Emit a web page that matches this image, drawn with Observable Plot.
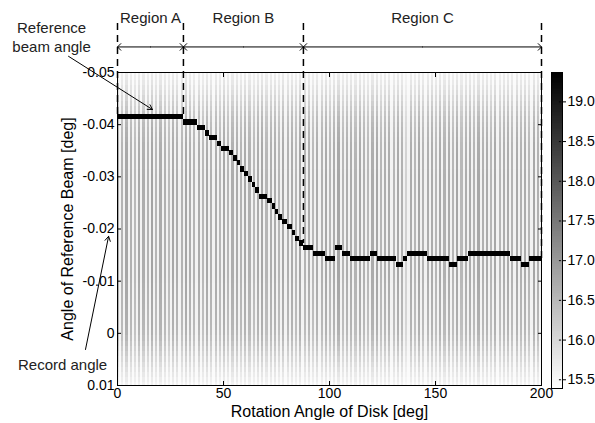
<!DOCTYPE html>
<html><head><meta charset="utf-8">
<script src="https://cdn.jsdelivr.net/npm/d3@7"></script>
<script src="https://cdn.jsdelivr.net/npm/@observablehq/plot@0.6"></script>
<style>
html,body{margin:0;padding:0;background:#fff;}
#chart{position:relative;width:595px;height:423px;overflow:hidden;font-family:'Liberation Sans',Arial,sans-serif;}
#chart svg{position:absolute;top:0;}
</style></head><body><div id="chart"></div>
<script>
// ---- axis ticks ----
const xTicks = [0, 50, 100, 150, 200];
const yTicks = [-0.05, -0.04, -0.03, -0.02, -0.01, 0, 0.01];
const colorTicks = [15.5, 16, 16.5, 17, 17.5, 18, 18.5, 19];
const colorMin = 15.39, colorMax = 19.37;

// ---- background stripes (darkness of the dark line in each 2-deg period) ----
const stripeDark = [0.33,0.30,0.35,0.31,0.28,0.34,0.32,0.30,0.36,0.29,
  0.33,0.31,0.27,0.34,0.32,0.30,0.35,0.32,0.30,0.33,
  0.28,0.34,0.31,0.33,0.29,0.35,0.29,0.32,0.33,0.30,
  0.34,0.31,0.28,0.33,0.35,0.29,0.32,0.33,0.29,0.34,
  0.31,0.33,0.29,0.35,0.30,0.32,0.28,0.33,0.31,0.34,
  0.29,0.33,0.35,0.29,0.32,0.33,0.30,0.34,0.31,0.28,
  0.33,0.35,0.29,0.32,0.33,0.29,0.34,0.31,0.18,0.33,
  0.29,0.35,0.30,0.32,0.33,0.29,0.34,0.31,0.33,0.29,
  0.35,0.28,0.32,0.33,0.30,0.34,0.31,0.33,0.29,0.35,
  0.29,0.32,0.33,0.30,0.34,0.31,0.33,0.29,0.35,0.31];
const stripeLight = 0.05;
// vertical profile of the stripes, rows -0.050 ... 0.010 (step 0.001)
const rowProfile = [0.18,0.24,0.30,0.36,0.42,0.50,0.58,0.65,0.72,0.78,
  0.83,0.87,0.90,0.92,0.95,0.96,0.97,0.98,0.98,0.99,
  1.00,1.00,1.00,1.00,1.00,1.00,1.00,1.00,1.00,1.00,
  1.00,1.00,1.00,1.00,1.00,1.00,1.00,1.00,1.00,1.00,
  0.99,0.98,0.97,0.96,0.95,0.94,0.93,0.92,0.91,0.90,
  0.86,0.81,0.74,0.66,0.58,0.50,0.42,0.35,0.28,0.22,0.16];
const rotationCols = d3.range(0, 200);          // 1-degree columns
const angleRows = d3.range(61).map(j => +(-0.050 + 0.001 * j).toFixed(3));

// ---- peak (maximum) cells ----
const peakStart = [0,31.1,37.7,41.5,43.4,47.2,49.1,52.8,54.7,56.6,
  58.0,59.9,61.8,63.7,65.1,67.0,70.8,73.1,74.5,75.9,
  77.8,80.2,82.5,84.0,85.8,87.7,92.5,98.1,102.8,106.1,
  109.9,119.3,122.6,131.6,134.9,136.8,146.2,156.6,160.4,165.6,
  185.4,190.6,194.3];
const peakAngle = [-0.0414,-0.0404,-0.0394,-0.0383,-0.0374,-0.0363,-0.0353,-0.0345,-0.0335,-0.0326,
  -0.0314,-0.0305,-0.0295,-0.0285,-0.0274,-0.0262,-0.0254,-0.0243,-0.0233,-0.0222,
  -0.0214,-0.0204,-0.0192,-0.0181,-0.0172,-0.0163,-0.0152,-0.0142,-0.0163,-0.0152,
  -0.0142,-0.0152,-0.0142,-0.0131,-0.0142,-0.0152,-0.0142,-0.0131,-0.0142,-0.0152,
  -0.0142,-0.0131,-0.0142];
const cellHalf = 0.0005;

// ---- region annotations ----
const regionNames = ["Region A", "Region B", "Region C"];
const regionBounds = [0, 31.1, 87.7, 200];
const boundPeak = [-0.0414, -0.0414, -0.0172, -0.0142];
const dashTopY = -0.0594, arrowRowY = -0.0549, regionLabelY = -0.0605;
const noteTexts = ["Reference\nbeam angle", "Record angle"];
const noteX = [-31.1, -25.9], noteY = [-0.0569, 0.0059];
const noteArrowX1 = [-23.1, -15.1], noteArrowY1 = [-0.0531, 0.0031];
const noteArrowX2 = [16.5, -4.2], noteArrowY2 = [-0.0429, -0.0186];

// ---- tables ----
const bg = [];
rotationCols.forEach((x, i) => angleRows.forEach((y, j) => {
  const t = rowProfile[j] * (i % 2 === 0 ? stripeDark[i >> 1] : stripeLight);
  bg.push({x1: x, x2: x + 1, y1: y - cellHalf, y2: y + cellHalf, v: colorMin + t * (colorMax - colorMin)});
}));
const peaks = peakStart.map((s, k) => ({s, e: k + 1 < peakStart.length ? peakStart[k + 1] : 200, a: peakAngle[k], v: colorMax}));
const bounds = regionBounds.map((x, k) => ({x, peak: boundPeak[k]}));
const regions = regionNames.map((name, k) => ({name, x1: regionBounds[k], x2: regionBounds[k + 1], mid: (regionBounds[k] + regionBounds[k + 1]) / 2}));
// each region span drawn as two arrows from its middle to its ends
const spanArrows = regions.flatMap(r => [{from: r.mid, to: r.x1}, {from: r.mid, to: r.x2}]);
const notes = noteTexts.map((text, k) => ({text, x: noteX[k], y: noteY[k], ax1: noteArrowX1[k], ay1: noteArrowY1[k], ax2: noteArrowX2[k], ay2: noteArrowY2[k]}));

const font = "'Liberation Sans', Arial, sans-serif";
const colorScale = {type: "linear", domain: [colorMin, colorMax], range: ["white", "black"], clamp: true};

const main = Plot.plot({
  width: 548, height: 423,
  marginLeft: 117, marginRight: 7, marginTop: 72, marginBottom: 38,
  style: {fontFamily: font, fontSize: "14px", background: "transparent", color: "black", overflow: "visible"},
  x: {domain: [0, 200]},
  y: {domain: [-0.05, 0.01], reverse: true},
  color: colorScale,
  marks: [
    Plot.rect(bg, {x1: "x1", x2: "x2", y1: "y1", y2: "y2", fill: "v", clip: true, shapeRendering: "crispEdges"}),
    Plot.rect(peaks, {x1: "s", x2: "e", y1: d => d.a - cellHalf, y2: d => d.a + cellHalf, fill: "v", clip: true, shapeRendering: "crispEdges"}),
    Plot.frame({stroke: "black"}),
    Plot.axisX({anchor: "bottom", ticks: xTicks, tickSize: -4, tickPadding: 7, fontSize: 14, label: null}),
    Plot.axisX({anchor: "top", ticks: xTicks, tickSize: -4, tickFormat: () => "", label: null}),
    Plot.axisY({anchor: "left", ticks: yTicks, tickSize: -4, tickPadding: 7, fontSize: 14, tickFormat: d => String(d), label: null}),
    Plot.axisY({anchor: "right", ticks: yTicks, tickSize: -4, tickFormat: () => "", label: null}),
    Plot.text(["Rotation Angle of Disk [deg]"], {frameAnchor: "bottom", dy: 26, fontSize: 16, lineAnchor: "middle"}),
    Plot.text(["Angle of Reference Beam [deg]"], {frameAnchor: "left", dx: -50, rotate: -90, textAnchor: "middle", fontSize: 16}),
    Plot.ruleX(bounds, {x: "x", y1: () => dashTopY, y2: "peak", stroke: "black", strokeWidth: 1.5, strokeDasharray: "7,5"}),
    Plot.arrow(spanArrows, {x1: "from", x2: "to", y1: () => arrowRowY, y2: () => arrowRowY, stroke: "black", strokeWidth: 1, headLength: 7, headAngle: 90}),
    Plot.text(regions, {x: "mid", y: () => regionLabelY, text: "name", fontSize: 15, fill: "#222"}),
    Plot.text(notes, {x: "x", y: "y", text: "text", fontSize: 15, lineHeight: 1.3, fill: "#222"}),
    Plot.arrow(notes, {x1: "ax1", y1: "ay1", x2: "ax2", y2: "ay2", stroke: "black", strokeWidth: 1, headLength: 8})
  ]
});
main.style.left = "0px";

const cbLevels = d3.range(colorMin, colorMax, 0.02);
const cbar = Plot.plot({
  width: 50, height: 423,
  marginLeft: 6, marginRight: 33, marginTop: 72, marginBottom: 35,
  style: {fontFamily: font, fontSize: "14px", background: "transparent", color: "black", overflow: "visible"},
  x: {domain: [0, 1], axis: null},
  y: {domain: [colorMin, colorMax]},
  color: colorScale,
  marks: [
    Plot.rect(cbLevels, {x1: () => 0, x2: () => 1, y1: d => d, y2: d => Math.min(d + 0.021, colorMax), fill: d => d + 0.01, shapeRendering: "crispEdges"}),
    Plot.frame({stroke: "black"}),
    Plot.ruleY(colorTicks, {x1: () => 0.72, x2: () => 1, stroke: "black", strokeDasharray: "2,1"}),
    Plot.axisY({anchor: "right", ticks: colorTicks, tickSize: 3, tickPadding: 2, fontSize: 14, label: null})
  ]
});
cbar.style.left = "545px";

const chart = document.getElementById("chart");
chart.appendChild(main);
chart.appendChild(cbar);
</script></body></html>
